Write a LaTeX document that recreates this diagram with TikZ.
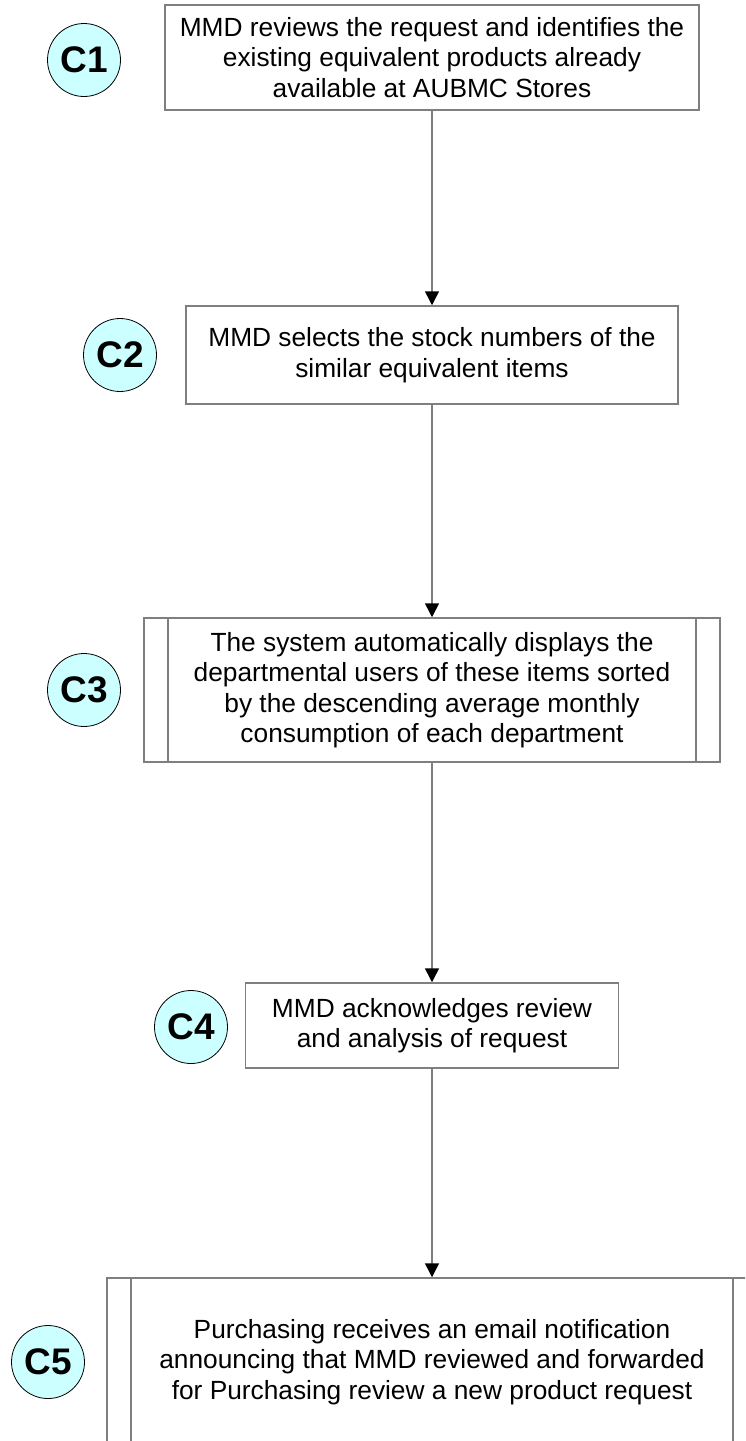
\documentclass[tikz,border=0pt]{standalone}
\usepackage{fontspec}
\setmainfont{Liberation Sans}
\usetikzlibrary{arrows.meta}
\definecolor{linegray}{HTML}{7F7F7F}
\definecolor{tagcyan}{HTML}{CCFFFF}
\tikzset{
    stepbox/.style={draw=linegray, line width=1.5pt, fill=white, align=center,
        inner sep=0pt, font=\fontsize{26.3}{30.5}\selectfont},
    subproc/.style={stepbox, path picture={
        \draw[linegray, line width=1.5pt]
            ([xshift=24pt]path picture bounding box.north west) --
            ([xshift=24pt]path picture bounding box.south west);
        \draw[linegray, line width=1.5pt]
            ([xshift=-24pt]path picture bounding box.north east) --
            ([xshift=-24pt]path picture bounding box.south east);}},
    tag/.style={circle, draw=black, line width=0.8pt, fill=tagcyan,
        minimum size=73pt, inner sep=0pt, font=\bfseries\fontsize{37}{37}\selectfont},
    flow/.style={draw=linegray, line width=1.5pt,
        -{Triangle[length=14pt, width=14pt, color=black]}}
}
\begin{document}
\begin{tikzpicture}[x=1pt, y=-1pt]
        \useasboundingbox (0, 0) rectangle (745, 1441);
        \clip (0, 0) rectangle (745, 1441);

        % Nodes
        \node[stepbox, minimum width=534pt, minimum height=105pt] (Review) at (432, 57.5)
            {MMD reviews the request and identifies the\\existing equivalent products already\\available at AUBMC Stores};
        \node[stepbox, minimum width=492pt, minimum height=98pt] (Select) at (432, 355)
            {MMD selects the stock numbers of the\\similar equivalent items};
        \node[subproc, minimum width=576pt, minimum height=144pt] (Display) at (432, 690)
            {The system automatically displays the\\departmental users of these items sorted\\by the descending average monthly\\consumption of each department};
        \node[stepbox, minimum width=373pt, minimum height=85pt] (Ack) at (432, 1025.5)
            {MMD acknowledges review\\and analysis of request};
        \node[subproc, minimum width=650pt, minimum height=168pt] (Notify) at (432, 1362)
            {Purchasing receives an email notification\\announcing that MMD reviewed and forwarded\\for Purchasing review a new product request};

        % Tags
        \node[tag] (C1) at (84, 60) {C1};
        \node[tag] (C2) at (120, 355) {C2};
        \node[tag] (C3) at (84, 690) {C3};
        \node[tag] (C4) at (191, 1027) {C4};
        \node[tag] (C5) at (48, 1362) {C5};

        % Arrows
        \draw[flow] (Review.south) -- (Select.north);
        \draw[flow] (Select.south) -- (Display.north);
        \draw[flow] (Display.south) -- (Ack.north);
        \draw[flow] (Ack.south) -- (Notify.north);
    \end{tikzpicture}
\end{document}
